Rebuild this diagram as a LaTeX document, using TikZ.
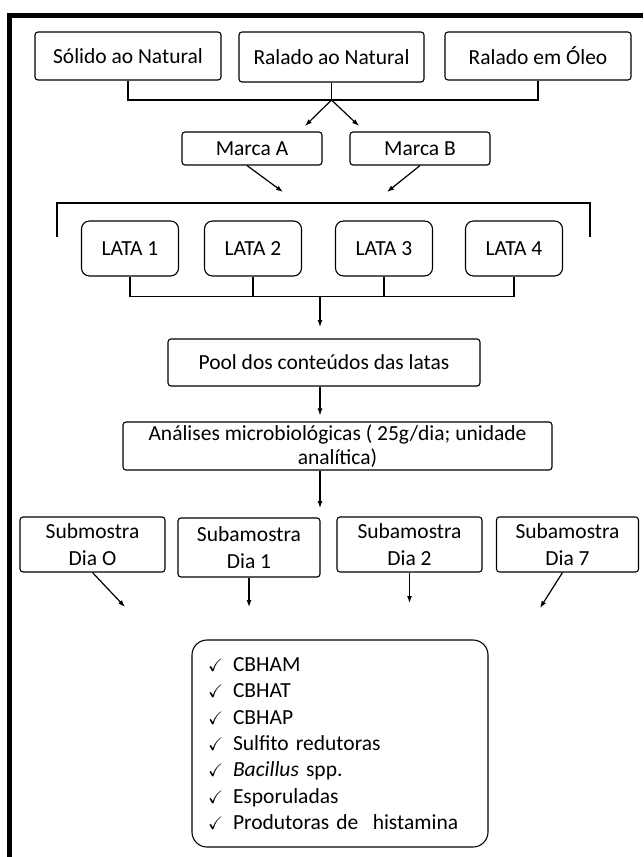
\documentclass[tikz,border=0pt]{standalone}
\usepackage{amssymb}
\usepackage{fontspec}
\setmainfont{Carlito}
\usetikzlibrary{arrows.meta}
\def\chk{\makebox[25pt][l]{\fontsize{18}{18}\selectfont$\checkmark$}}

\begin{document}
\begin{tikzpicture}[x=1pt,y=-1pt,
    box/.style={draw,rounded corners=3pt,line width=1.1pt,inner sep=0pt,align=center,font=\fontsize{21.5}{27}\selectfont},
    lata/.style={box,rounded corners=8pt,minimum width=97pt,minimum height=55pt},
    arr/.style={-{Latex[length=7pt,width=5pt]},line width=1.2pt}]
  \useasboundingbox (0,0) rectangle (643,857);
  \draw[line width=5pt] (9.5,857) -- (9.5,15) -- (643,15);

  \node[box,minimum width=186pt,minimum height=48pt] (solido) at (128,56) {Sólido ao Natural};
  \node[box,minimum width=185pt,minimum height=50pt] (raladonat) at (331.5,57) {Ralado ao Natural};
  \node[box,minimum width=186pt,minimum height=48pt] (oleo) at (538,56) {Ralado em Óleo};
  \coordinate (j1) at (331.5,100);
  \draw[line width=1.3pt] (solido.south) |- (j1) -| (oleo.south);
  \draw[line width=1.3pt] (raladonat.south) -- (j1);
  \coordinate (ta) at (305,126);
  \coordinate (tb) at (359,126);
  \draw[arr] (j1) -- (ta);
  \draw[arr] (j1) -- (tb);

  \node[box,minimum width=140pt,minimum height=33pt] (marcaA) at (252,148.5) {Marca A};
  \node[box,minimum width=140pt,minimum height=33pt] (marcaB) at (420,148.5) {Marca B};
  \coordinate (tc) at (283,192);
  \coordinate (td) at (387,192);
  \draw[arr] ([xshift=-5pt]marcaA.south) -- (tc);
  \draw[arr] (marcaB.south) -- (td);

  \coordinate (bl) at (57,237);
  \coordinate (br) at (590,237);
  \draw[line width=1.3pt] (bl) -- ++(0,-34) -| (br);

  \node[lata] (lata1) at (130,248.5) {LATA 1};
  \node[lata] (lata2) at (253,248.5) {LATA 2};
  \node[lata] (lata3) at (384,248.5) {LATA 3};
  \node[lata] (lata4) at (514,248.5) {LATA 4};
  \draw[line width=1.3pt] (lata1.south) -- ++(0,20) -| (lata4.south);
  \draw[line width=1.3pt] (lata2.south) -- ++(0,20);
  \draw[line width=1.3pt] (lata3.south) -- ++(0,20);
  \coordinate (j2) at (320,296);
  \coordinate (t1) at (320,327);
  \draw[arr] (j2) -- (t1);

  \node[box,minimum width=312pt,minimum height=47pt] (pool) at (324,362.5) {Pool dos conteúdos das latas};
  \node[box,minimum width=429pt,minimum height=48pt,font=\fontsize{21.5}{24}\selectfont] (analises) at (337.5,446)
    {Análises microbiológicas ( 25g/dia; unidade\\analítica)};
  \draw[arr,shorten >=6pt] (j2 |- pool.south) -- (j2 |- analises.north);
  \coordinate (t2) at (320,508);
  \draw[arr] (j2 |- analises.south) -- (t2);

  \node[box,minimum width=145pt,minimum height=55pt] (sub0) at (92.5,544.5) {Submostra\\Dia O};
  \node[box,minimum width=142pt,minimum height=59pt] (sub1) at (249,547.5) {Subamostra\\Dia 1};
  \node[box,minimum width=145pt,minimum height=55pt] (sub2) at (409.5,544.5) {Subamostra\\Dia 2};
  \node[box,minimum width=142pt,minimum height=55pt] (sub7) at (567.5,544.5) {Subamostra\\Dia 7};
  \coordinate (s0) at (125,607);
  \coordinate (s1) at (249,607);
  \coordinate (s2) at (409.5,603);
  \coordinate (s7) at (540,608);
  \draw[arr] (sub0.south) -- (s0);
  \draw[arr] (sub1.south) -- (s1);
  \draw[arr] (sub2.south) -- (s2);
  \draw[arr] ([xshift=-5pt]sub7.south) -- (s7);

  \node[box,rounded corners=15pt,minimum width=296pt,minimum height=207pt,text width=264pt,align=left,
    font=\fontsize{21.5}{26.3}\selectfont] (lista) at (340,743.5)
    {\chk CBHAM\\ \chk CBHAT\\ \chk CBHAP\\ \chk Sulfito redutoras\\ \chk \textit{Bacillus} spp.\\ \chk Esporuladas\\ \chk Produtoras de\ \ histamina};
\end{tikzpicture}
\end{document}
